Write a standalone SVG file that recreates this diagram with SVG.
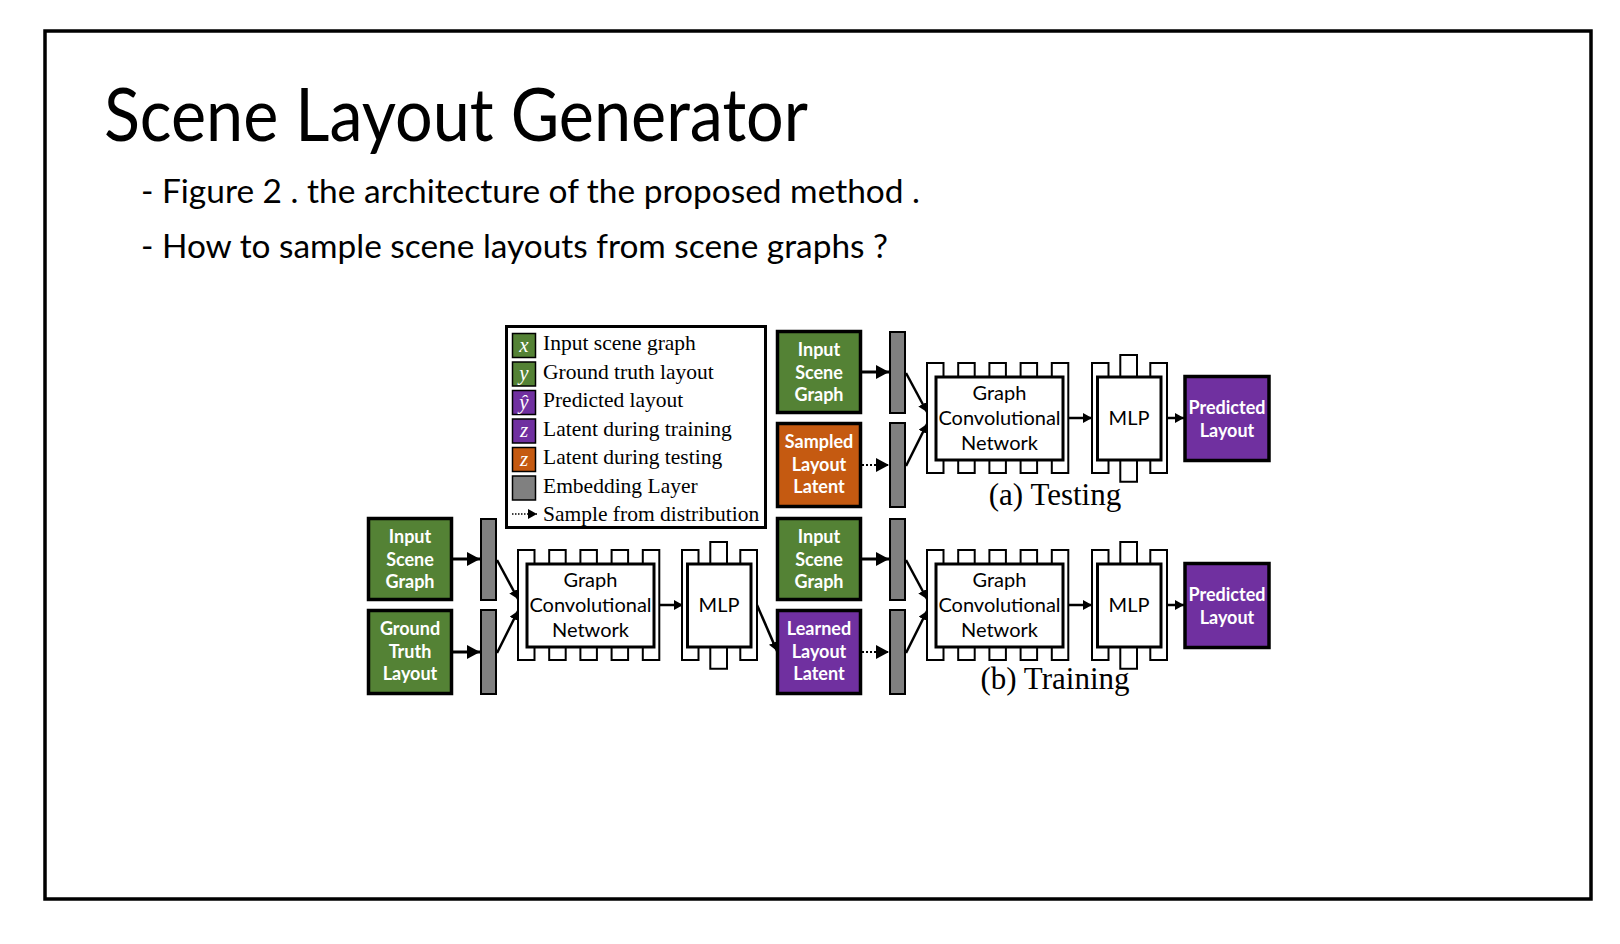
<svg xmlns="http://www.w3.org/2000/svg" width="1620" height="944" viewBox="0 0 1620 944">
<style>
.title{font-family:Lato,"Liberation Sans",sans-serif;font-size:73px;fill:#000}
.bullet{font-family:Lato,"Liberation Sans",sans-serif;font-size:33px;fill:#000}
.lbl{font-family:Lato,"Open Sans",sans-serif;font-weight:bold;font-size:18px;fill:#fff;text-anchor:middle}
.net{font-family:Lato,"Open Sans",sans-serif;font-size:20px;fill:#000;text-anchor:middle}
.leg{font-family:"Liberation Serif",serif;font-size:21.5px;fill:#000}
.sw{font-family:"Liberation Serif",serif;font-style:italic;font-size:21px;fill:#fff;text-anchor:middle}
.cap{font-family:"Liberation Serif",serif;font-size:31px;fill:#000;text-anchor:middle}
.green{fill:#548235;stroke:#000;stroke-width:3.5}
.purple{fill:#7030a0;stroke:#000;stroke-width:3.5}
.orange{fill:#c55a11;stroke:#000;stroke-width:3.5}
.bar{fill:#808080;stroke:#000;stroke-width:2}
.outline{fill:#fff;stroke:#000;stroke-width:2}
.inner{fill:#fff;stroke:#000;stroke-width:3}
.ar{stroke:#000;stroke-width:3;fill:none}
.ar2{stroke:#000;stroke-width:2.5;fill:none}
.dot{stroke:#000;stroke-width:2;stroke-dasharray:2 2;fill:none}
</style>
<defs>
<marker id="ah" markerUnits="userSpaceOnUse" markerWidth="14" markerHeight="14" refX="13" refY="7" orient="auto"><path d="M0,0 L13,7 L0,14 Z" fill="#000"/></marker>
<marker id="ahs" markerUnits="userSpaceOnUse" markerWidth="10" markerHeight="10" refX="9" refY="5" orient="auto"><path d="M0,0 L9,5 L0,10 Z" fill="#000"/></marker>
<path id="gcn" d="M0,110 V0 H16.5 V14 H31.2 V0 H47.7 V14 H62.4 V0 H78.9 V14 H93.6 V0 H110.1 V14 H124.8 V0 H141.3 V110 H124.8 V97 H110.1 V110 H93.6 V97 H78.9 V110 H62.4 V97 H47.7 V110 H31.2 V97 H16.5 V110 Z"/>
<path id="mlp" d="M0,110 V0 H16.5 V14 H28.3 V-8 H45 V14 H58.3 V0 H75 V110 H58.3 V97 H45 V118.7 H28.3 V97 H16.5 V110 Z"/>
</defs>
<rect width="1620" height="944" fill="#fff"/>
<rect x="45" y="31" width="1546" height="868" fill="none" stroke="#000" stroke-width="3.5"/>
<text class="title" x="104" y="141" textLength="704" lengthAdjust="spacingAndGlyphs">Scene Layout Generator</text>
<text class="bullet" x="141" y="203" textLength="779" lengthAdjust="spacingAndGlyphs">- Figure 2 . the architecture of the proposed method .</text>
<text class="bullet" x="141" y="258" textLength="747" lengthAdjust="spacingAndGlyphs">- How to sample scene layouts from scene graphs ?</text>

<g id="legend">
<rect x="506.5" y="326.5" width="259" height="201" fill="#fff" stroke="#000" stroke-width="3"/>
<rect x="512.5" y="333.5" width="23" height="24" fill="#548235" stroke="#000" stroke-width="1.5"/>
<text class="sw" x="524" y="352">x</text>
<text class="leg" x="543" y="350">Input scene graph</text>
<rect x="512.5" y="362" width="23" height="24" fill="#548235" stroke="#000" stroke-width="1.5"/>
<text class="sw" x="524" y="380">y</text>
<text class="leg" x="543" y="378.5">Ground truth layout</text>
<rect x="512.5" y="390.5" width="23" height="24" fill="#7030a0" stroke="#000" stroke-width="1.5"/>
<text class="sw" x="524" y="409">ŷ</text>
<text class="leg" x="543" y="407">Predicted layout</text>
<rect x="512.5" y="419" width="23" height="24" fill="#7030a0" stroke="#000" stroke-width="1.5"/>
<text class="sw" x="524" y="437">z</text>
<text class="leg" x="543" y="435.5">Latent during training</text>
<rect x="512.5" y="447.5" width="23" height="24" fill="#c55a11" stroke="#000" stroke-width="1.5"/>
<text class="sw" x="524" y="466">z</text>
<text class="leg" x="543" y="464">Latent during testing</text>
<rect x="512.5" y="476" width="23" height="24" fill="#808080" stroke="#000" stroke-width="1.5"/>
<text class="leg" x="543" y="492.5">Embedding Layer</text>
<line x1="512" y1="514" x2="537" y2="514" stroke="#000" stroke-width="1.5" stroke-dasharray="1.5 1.5" marker-end="url(#ahs)"/>
<text class="leg" x="543" y="521">Sample from distribution</text>
</g>

<!-- (a) Testing -->
<g id="t_input"><rect class="green" x="777.5" y="331.5" width="83" height="81"/>
<text class="lbl" x="819" y="356">Input</text><text class="lbl" x="819" y="378.5">Scene</text><text class="lbl" x="819" y="401">Graph</text></g>
<g id="t_sampled"><rect class="orange" x="777.5" y="423.5" width="83" height="83"/>
<text class="lbl" x="819" y="448">Sampled</text><text class="lbl" x="819" y="470.5">Layout</text><text class="lbl" x="819" y="493">Latent</text></g>
<g id="t_emb1"><rect class="bar" x="890" y="332" width="15" height="81"/></g>
<g id="t_emb2"><rect class="bar" x="890" y="423" width="15" height="84"/></g>
<g id="t_gcn" transform="translate(927,363)"><use href="#gcn" class="outline"/><rect class="inner" x="9" y="14" width="127" height="83"/>
<text class="net" x="72.5" y="37">Graph</text><text class="net" x="72.5" y="62">Convolutional</text><text class="net" x="72.5" y="87">Network</text></g>
<g id="t_mlp" transform="translate(1092,363)"><use href="#mlp" class="outline"/><rect class="inner" x="5.5" y="14" width="63.5" height="83"/>
<text class="net" x="37" y="62">MLP</text></g>
<g id="t_pred"><rect class="purple" x="1185" y="376.5" width="84" height="84"/>
<text class="lbl" x="1227" y="414">Predicted</text><text class="lbl" x="1227" y="437">Layout</text></g>
<text class="cap" x="1055" y="505">(a) Testing</text>

<!-- (b) Training, right -->
<g id="r_input"><rect class="green" x="777.5" y="518.5" width="83" height="81"/>
<text class="lbl" x="819" y="543">Input</text><text class="lbl" x="819" y="565.5">Scene</text><text class="lbl" x="819" y="588">Graph</text></g>
<g id="r_learned"><rect class="purple" x="777.5" y="610.5" width="83" height="83"/>
<text class="lbl" x="819" y="635">Learned</text><text class="lbl" x="819" y="657.5">Layout</text><text class="lbl" x="819" y="680">Latent</text></g>
<g id="r_emb1"><rect class="bar" x="890" y="519" width="15" height="81"/></g>
<g id="r_emb2"><rect class="bar" x="890" y="610" width="15" height="84"/></g>
<g id="r_gcn" transform="translate(927,550)"><use href="#gcn" class="outline"/><rect class="inner" x="9" y="14" width="127" height="83"/>
<text class="net" x="72.5" y="37">Graph</text><text class="net" x="72.5" y="62">Convolutional</text><text class="net" x="72.5" y="87">Network</text></g>
<g id="r_mlp" transform="translate(1092,550)"><use href="#mlp" class="outline"/><rect class="inner" x="5.5" y="14" width="63.5" height="83"/>
<text class="net" x="37" y="62">MLP</text></g>
<g id="r_pred"><rect class="purple" x="1185" y="563.5" width="84" height="84"/>
<text class="lbl" x="1227" y="601">Predicted</text><text class="lbl" x="1227" y="624">Layout</text></g>
<text class="cap" x="1055" y="689">(b) Training</text>

<!-- (b) Training, left -->
<g id="l_input"><rect class="green" x="368.5" y="518.5" width="83" height="81"/>
<text class="lbl" x="410" y="543">Input</text><text class="lbl" x="410" y="565.5">Scene</text><text class="lbl" x="410" y="588">Graph</text></g>
<g id="l_gt"><rect class="green" x="368.5" y="610.5" width="83" height="83"/>
<text class="lbl" x="410" y="635">Ground</text><text class="lbl" x="410" y="657.5">Truth</text><text class="lbl" x="410" y="680">Layout</text></g>
<g id="l_emb1"><rect class="bar" x="481" y="519" width="15" height="81"/></g>
<g id="l_emb2"><rect class="bar" x="481" y="610" width="15" height="84"/></g>
<g id="l_gcn" transform="translate(518,550)"><use href="#gcn" class="outline"/><rect class="inner" x="9" y="14" width="127" height="83"/>
<text class="net" x="72.5" y="37">Graph</text><text class="net" x="72.5" y="62">Convolutional</text><text class="net" x="72.5" y="87">Network</text></g>
<g id="l_mlp" transform="translate(682,550)"><use href="#mlp" class="outline"/><rect class="inner" x="5.5" y="14" width="63.5" height="83"/>
<text class="net" x="37" y="62">MLP</text></g>

<g id="connectors">
<line class="ar" x1="862" y1="372" x2="889" y2="372" marker-end="url(#ah)"/>
<line class="dot" x1="862" y1="465" x2="889" y2="465" marker-end="url(#ah)"/>
<line class="ar2" x1="906" y1="373" x2="927" y2="412" marker-end="url(#ahs)"/>
<line class="ar2" x1="906" y1="466" x2="927" y2="424" marker-end="url(#ahs)"/>
<line class="ar2" x1="1068" y1="418" x2="1092" y2="418" marker-end="url(#ahs)"/>
<line class="ar2" x1="1167" y1="418" x2="1184" y2="418" marker-end="url(#ahs)"/>

<line class="ar" x1="862" y1="559" x2="889" y2="559" marker-end="url(#ah)"/>
<line class="dot" x1="862" y1="652" x2="889" y2="652" marker-end="url(#ah)"/>
<line class="ar2" x1="906" y1="560" x2="927" y2="599" marker-end="url(#ahs)"/>
<line class="ar2" x1="906" y1="653" x2="927" y2="611" marker-end="url(#ahs)"/>
<line class="ar2" x1="1068" y1="605" x2="1092" y2="605" marker-end="url(#ahs)"/>
<line class="ar2" x1="1167" y1="605" x2="1184" y2="605" marker-end="url(#ahs)"/>

<line class="ar" x1="453" y1="559" x2="480" y2="559" marker-end="url(#ah)"/>
<line class="ar" x1="453" y1="652" x2="480" y2="652" marker-end="url(#ah)"/>
<line class="ar2" x1="497" y1="560" x2="518" y2="599" marker-end="url(#ahs)"/>
<line class="ar2" x1="497" y1="653" x2="518" y2="611" marker-end="url(#ahs)"/>
<line class="ar2" x1="659" y1="605" x2="683" y2="605" marker-end="url(#ahs)"/>
<line class="ar2" x1="757" y1="605" x2="777" y2="651" marker-end="url(#ahs)"/>
</g>
</svg>
